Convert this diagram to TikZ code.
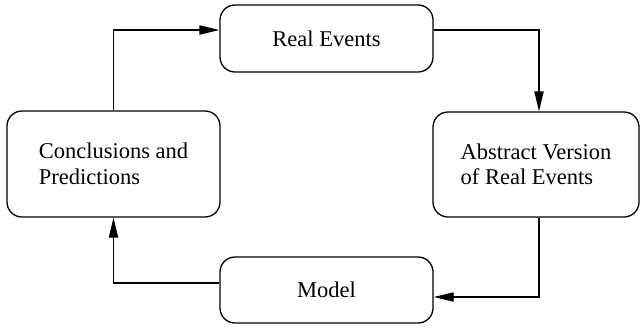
\documentclass[tikz,border=0pt]{standalone}
\usepackage{fontspec}
\setmainfont{Liberation Serif}
\usetikzlibrary{arrows.meta}
\begin{document}
\begin{tikzpicture}[x=0.5bp,y=-0.5bp,
  stage/.style={draw,rounded corners=7.5bp,line width=0.65bp,inner sep=0pt,
    font=\fontsize{11.3}{12.8}\selectfont,align=left},
  flow/.style={line width=0.65bp,-{Triangle[length=10bp,width=4.6bp]}}]
  \useasboundingbox (0,0) rectangle (640,329);
  \node[stage,minimum width=106.5bp,minimum height=33.5bp] (real) at (326.5,38.5) {Real Events};
  \node[stage,minimum width=103bp,minimum height=52.5bp] (abs) at (536,164.5) {Abstract Version\\of Real Events};
  \node[stage,minimum width=106.5bp,minimum height=33bp] (model) at (326.5,290) {Model};
  \node[stage,minimum width=106.5bp,minimum height=53bp] (conc) at (113.5,164) {Conclusions and\\Predictions};
  % cycle of arrows around the four stages
  \draw[flow] (conc.north) |- ([yshift=4.25bp]real.west);
  \draw[flow] ([yshift=4.25bp]real.east) -| ([xshift=1.5bp]abs.north);
  \draw[flow] ([xshift=1.5bp]abs.south) |- ([yshift=-3.5bp]model.east);
  \draw[flow] ([yshift=3.5bp]model.west) -| (conc.south);
\end{tikzpicture}
\end{document}
